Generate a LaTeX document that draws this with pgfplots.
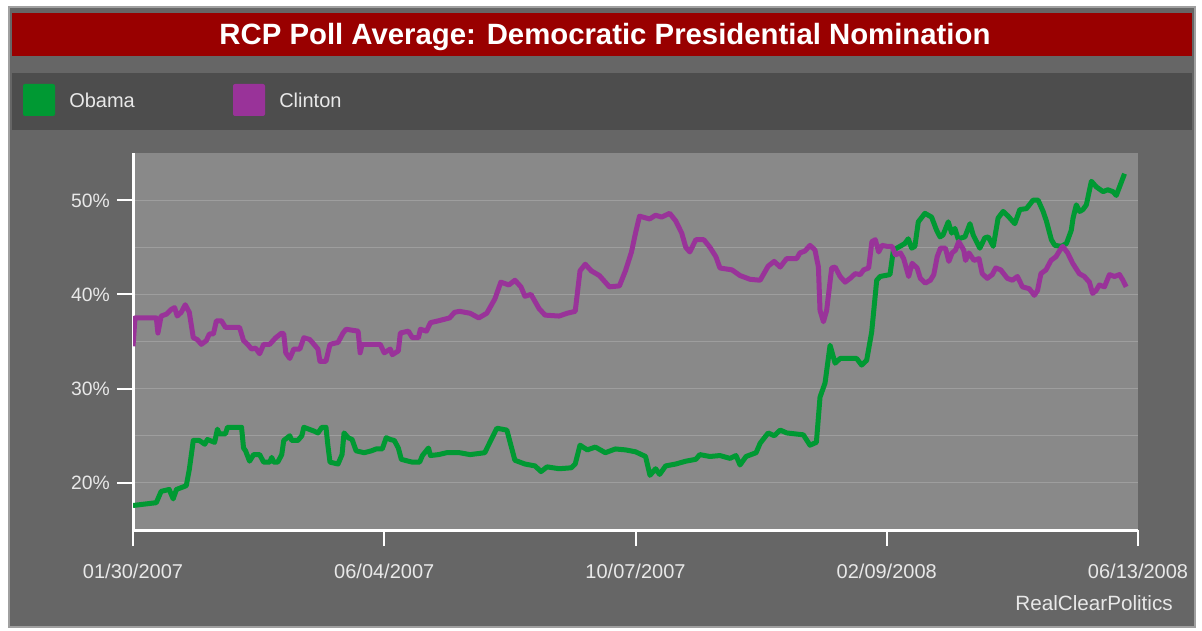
\documentclass[border=0pt]{standalone}
\usepackage{pgfplots}
\pgfplotsset{compat=1.18}
\usepackage{fontspec}
\setmainfont{Liberation Sans}
\definecolor{bg}{HTML}{666666}
\definecolor{band}{HTML}{4D4D4D}
\definecolor{plotbg}{HTML}{898989}
\definecolor{titlered}{HTML}{990000}
\definecolor{obama}{HTML}{009933}
\definecolor{clinton}{HTML}{993399}
\definecolor{txt}{HTML}{E8E8E8}
\definecolor{gridc}{HTML}{9E9E9E}
\definecolor{frame}{HTML}{A0A0A0}
\begin{document}
\begin{tikzpicture}
\begin{scope}[x=0.75pt,y=-0.75pt]
\fill[white] (0,0) rectangle (1202,631);
\filldraw[fill=bg, draw=frame, line width=1.5pt] (9,7) rectangle (1195,627);
\fill[titlered] (12,13) rectangle (1192,56);
\node[anchor=base, inner sep=0pt, text=white, font=\fontsize{22}{26}\selectfont\bfseries] at (605,44.5) {RCP Poll Average: Democratic Presidential Nomination};
\fill[band] (12,73) rectangle (1192,130);
\fill[obama, rounded corners=1.5pt] (23,84) rectangle (55,116);
\node[anchor=base west, inner sep=0pt, text=txt, font=\fontsize{15}{18}\selectfont] at (69,108) {Obama};
\fill[clinton, rounded corners=1.5pt] (233,84) rectangle (265,116);
\node[anchor=base west, inner sep=0pt, text=txt, font=\fontsize{15}{18}\selectfont] at (279,108) {Clinton};
\node[anchor=base east, inner sep=0pt, text=txt, font=\fontsize{15.5}{18}\selectfont] at (1173,610) {RealClearPolitics};
\end{scope}
\begin{axis}[
  at={(99.75pt,-397.5pt)}, anchor=south west,
  scale only axis, width=753.75pt, height=282.75pt,
  xmin=0, xmax=500, ymin=15, ymax=55,
  axis x line=bottom, axis y line=left,
  axis line style={-, white, line width=2.25pt},
  axis background/.style={fill=plotbg},
  xtick={0,125,250,375,500},
  xticklabels={01/30/2007,06/04/2007,10/07/2007,02/09/2008,06/13/2008},
  ytick={20,30,40,50},
  yticklabels={20\%,30\%,40\%,50\%},
  minor ytick={25,35,45},
  ymajorgrids, yminorgrids,
  grid style={gridc, line width=0.75pt},
  minor grid style={gridc, line width=0.75pt},
  xtick align=outside, ytick align=outside,
  xtick pos=bottom, ytick pos=left,
  major tick length=12pt, minor tick length=0pt,
  tick style={white, line width=1.5pt},
  ytick style={white, line width=1.5pt},
  xtick style={white, line width=1.5pt},
  xticklabel style={anchor=base, inner sep=0pt, text=txt, font=\fontsize{15}{18}\selectfont, yshift=-24.3pt},
  yticklabel style={anchor=base east, inner sep=0pt, text=txt, font=\fontsize{14.5}{18}\selectfont, xshift=-5.25pt, yshift=-5.2pt},
  /pgf/number format/assume math mode=true,
]
\addplot[obama, line width=3.75pt, line join=round] coordinates {
(0,17.6)(11.6,17.9)(14,19.1)(18,19.3)(20,18.3)(21.6,19.3)(26.5,19.7)(28,21.4)(30,24.5)(33,24.5)(35.7,24.1)(37,24.6)(40.6,24.3)(42,25.7)(43,25.2)(46,25.2)(47,25.9)(54,25.9)(55,23.7)(56,23.4)(58,22.3)(60,23.0)(63,23.0)(65,22.2)(68,22.2)(69,22.7)(70,22.2)(72,22.2)(74,23.0)(75,24.5)(78,25.0)(79,24.5)(82,24.5)(84,25.0)(85,25.9)(90,25.5)(92,25.3)(94,25.9)(96,25.9)(97,23.9)(98,22.2)(102,22.0)(104,23.0)(105,25.3)(107,24.8)(109,24.6)(109.5,24.3)(111,23.4)(115,23.2)(118.6,23.4)(121,23.6)(124,23.6)(126,24.8)(128,24.6)(130,24.5)(132,23.7)(133.5,22.5)(137,22.3)(139,22.2)(142.6,22.2)(144,22.9)(147,23.7)(148,22.9)(152,23.0)(156,23.2)(162.5,23.2)
(167.7,23.0)(175,23.2)(178,24.5)(181,25.8)(186,25.6)(188,24.0)(190,22.4)(195,22.0)(200,21.8)(203,21.2)(206,21.7)(212,21.5)(218,21.6)(220,22.0)(222.4,24.0)(226,23.5)(230,23.8)(235,23.2)(240,23.6)(245,23.5)(250,23.3)(255,22.8)(257.2,20.8)(260,21.5)(262,20.9)(265,21.8)(270,22.0)(275,22.3)(280,22.5)(282,23.0)(287,22.8)(292,22.9)(297,22.6)(300,22.9)(302,21.9)(305,22.8)(310,23.2)(312,24.2)(316,25.3)(319,25.0)
(322,25.6)(325.2,25.3)(333.5,25.1)(336.8,24.0)(340,24.3)(341.8,29.1)(344.3,30.6)(346.8,34.6)(349.3,32.7)(351.8,33.2)(360,33.2)(362.5,32.5)(365,33.0)(367.5,36.0)(370,41.5)(371.7,41.9)(376.6,42.1)(378.3,44.7)(381.6,45.1)(384,45.4)(385.7,45.9)(387.4,44.9)(389,45.1)(390.7,47.7)(394,48.6)(397.3,48.2)(399.8,46.8)(401.5,46.1)(403,46.3)(405.6,47.7)(407.3,46.5)(408.9,47.0)(410.5,45.9)(413.9,46.1)(416.4,47.5)(418,46.3)(421.3,44.9)(423.8,46.0)(425.5,46.1)(428,45.1)(430.4,48.1)(432.9,48.8)(435.4,48.3)(438.7,47.5)(441.2,49.0)(444.5,49.1)(447.8,50.0)(450.3,50.0)(452.8,48.8)(454.4,47.8)(456.9,45.8)(458.6,45.2)(461.9,45.1)(464.4,45.4)(466.8,46.8)(467.7,48.1)(469.3,49.5)(471,48.8)(472.6,49.0)(474.3,49.5)(476.8,52.0)(479.3,51.4)(482.6,50.9)(485,51.1)(487.5,50.9)(489.2,50.5)(490.8,51.4)(493.3,52.8)
};
\addplot[clinton, line width=3.75pt, line join=round] coordinates {
(0,34.5)(1,37.5)(11.6,37.5)(12.4,35.9)(14,37.7)(16.6,37.9)(19,38.4)(20.7,38.6)(22,37.7)(24,38.1)(26,38.9)(28,38.1)(30,35.4)(32,35.2)(34,34.7)(36.5,35.1)(38,35.8)(40,35.8)(41.5,37.2)(44,37.2)(46,36.5)(53,36.5)(55,35.1)(57,34.7)(59,34.2)(61,34.3)(63,33.7)(65,34.7)(68,34.7)(71,35.4)(74,35.9)(75,35.8)(76,33.8)(78,33.2)(80,34.2)(83,34.2)(85,35.4)(88,35.2)(90,34.7)(92,34.2)(93,32.9)(96,32.9)(98,34.7)(102,34.9)(104.5,35.9)(106,36.3)(112,36.1)(113,33.8)(114,34.7)(123,34.7)(125,33.8)(128,34.2)(129,33.6)(132,34.0)(133,35.9)(137,36.1)(139,35.4)(142,35.4)(143,36.3)(146,36.1)(148,37.0)(152,37.2)(157.5,37.5)(160,38.1)(162.5,38.2)
(167.7,38.0)(172,37.5)(176,38.0)(180,39.5)(183,41.3)(187,41.0)(190,41.5)(193,40.8)(195,39.8)(198,40.0)(202,38.5)(205,37.8)(212,37.7)(216,38.0)(220,38.2)(222.4,42.5)(225,43.2)(228,42.5)(232,42.0)(237,40.8)(242,40.9)(245,42.5)(248,44.5)(250,46.5)(252,48.3)(257,48.0)(260,48.4)(263,48.2)(267,48.6)(270,47.8)(273,46.5)(275,45.0)(277,44.5)(280,45.8)(284,45.8)(287,45.0)(290,44.0)(292,42.8)(298,42.6)(302,42.0)(307,41.6)(312,41.5)(316,43.0)(319,43.5)
(322,42.9)(325.2,43.8)(330.2,43.8)(331.8,44.4)(334.3,44.6)(336.8,45.2)(339.3,44.7)(341,42.9)(341.8,38.3)(343.5,37.1)(345.1,38.3)(347.6,42.8)(349.3,42.9)(351.8,41.9)(354.3,41.3)(356.8,41.7)(359.3,42.2)(361.8,42.1)(363.5,42.6)(366,42.8)(367.6,45.6)(369.3,45.8)(371,44.5)(372.6,45.2)(375.1,45.1)(377.6,45.1)(379.3,44.2)(381.8,44.4)(383.4,43.8)(385.9,41.9)(387.6,43.3)(390.1,42.8)(391.7,41.7)(394.2,41.2)(396.7,41.5)(398.4,42.1)(400.1,44.0)(401.7,44.9)(404.2,44.9)(405.9,43.5)(407.5,44.4)(409.2,44.7)(410.8,45.6)(413.3,44.7)(414.2,43.6)(415.9,44.4)(418.4,43.6)(420.9,43.8)(422.5,42.2)(425,41.7)(427.5,42.1)(429.2,42.8)(431.7,42.6)(435,41.7)(437.5,41.5)(440,41.9)(442.5,40.8)(445.9,40.6)(448.4,39.9)(450,40.4)(451.7,42.2)(454.2,42.6)(456.7,43.6)(459.2,44.0)(460.9,44.6)(462.5,45.1)(465,44.4)(467.5,43.3)(470.8,42.2)(473.3,41.9)(475.8,41.3)(477.4,40.1)(479.1,40.4)(480.8,41.0)(483.3,40.8)(485.8,42.1)(488.3,41.9)(490.8,42.1)(492.5,41.5)(494.1,40.8)
};
\end{axis}
\end{tikzpicture}
\end{document}
